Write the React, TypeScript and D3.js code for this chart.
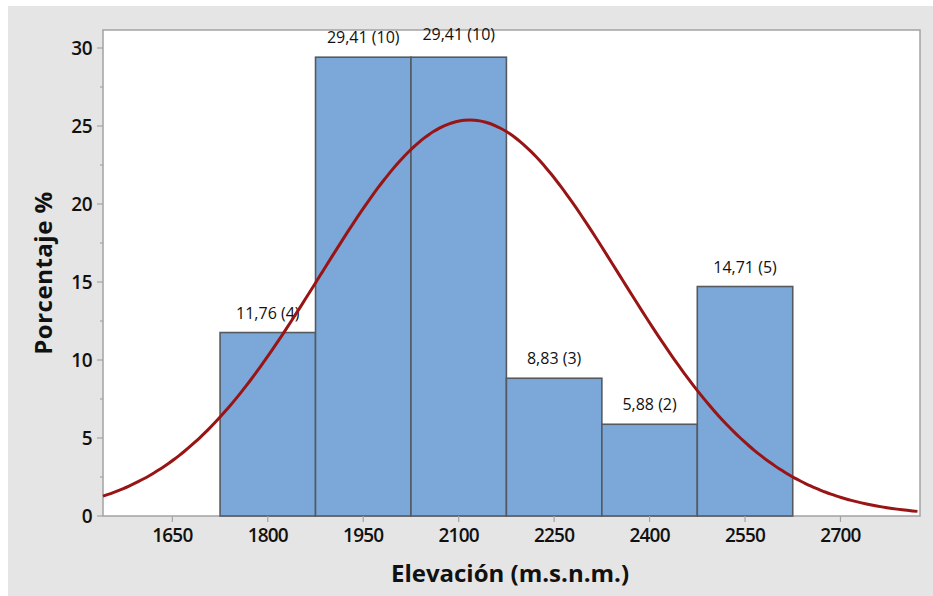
import React, { useEffect, useRef } from "react";
import * as d3 from "d3";

// bins of elevation (m.s.n.m.), width 150
const binStarts = [1725, 1875, 2025, 2175, 2325, 2475];
const binWidth = 150;
const counts = [4, 10, 10, 3, 2, 5];
const percents = [11.76, 29.41, 29.41, 8.83, 5.88, 14.71];
const barLabels = ["11,76 (4)", "29,41 (10)", "29,41 (10)", "8,83 (3)", "5,88 (2)", "14,71 (5)"];

const xTicks = [1650, 1800, 1950, 2100, 2250, 2400, 2550, 2700];
const yTicks = [0, 5, 10, 15, 20, 25, 30];

const W = 933;
const H = 596;
const FONT = "'Open Sans', 'Noto Sans', sans-serif";

export default function App() {
  const svgRef = useRef<SVGSVGElement | null>(null);

  useEffect(() => {
    const svg = d3.select(svgRef.current);
    svg.selectAll("*").remove();

    const left = 103;
    const right = 920;
    const top = 30;
    const bottom = 516;

    const x = d3.scaleLinear().domain([1541, 2825]).range([left, right]);
    const y = d3.scaleLinear().domain([0, 30]).range([bottom, 48]);

    // background
    svg.append("rect").attr("x", 8).attr("y", 6).attr("width", W - 8).attr("height", H - 6).attr("fill", "#e5e5e5");

    // plot area
    svg
      .append("rect")
      .attr("x", left)
      .attr("y", top)
      .attr("width", right - left)
      .attr("height", bottom - top)
      .attr("fill", "#fff")
      .attr("stroke", "#a3a3a3")
      .attr("stroke-width", 1.5);

    /* ---------- bars ---------- */
    const bars = svg.append("g");
    bars
      .selectAll("rect")
      .data(percents)
      .enter()
      .append("rect")
      .attr("x", (d, i) => x(binStarts[i]))
      .attr("y", (d) => y(d))
      .attr("width", (d, i) => x(binStarts[i] + binWidth) - x(binStarts[i]))
      .attr("height", (d) => bottom - y(d))
      .attr("fill", "#7ba7d9")
      .attr("stroke", "#555a60")
      .attr("stroke-width", 1.6);

    bars
      .selectAll("text")
      .data(percents)
      .enter()
      .append("text")
      .attr("x", (d, i) => x(binStarts[i] + binWidth / 2))
      .attr("y", (d, i) => y(d) - (i === 2 ? 17 : 14))
      .attr("text-anchor", "middle")
      .attr("font-family", FONT)
      .attr("font-size", 16)
      .attr("fill", "#111")
      .text((d, i) => barLabels[i]);

    /* ---------- fitted normal curve (from binned data) ---------- */
    const centers = binStarts.map((s) => s + binWidth / 2);
    const n = d3.sum(counts);
    const mean = d3.sum(centers, (c, i) => c * counts[i]) / n;
    const sd = Math.sqrt(d3.sum(centers, (c, i) => counts[i] * (c - mean) ** 2) / (n - 1));
    const fit = (v: number) =>
      (100 * binWidth * Math.exp(-((v - mean) ** 2) / (2 * sd * sd))) / (sd * Math.sqrt(2 * Math.PI));
    const xs = d3.range(1541, 2826, 8);

    svg
      .append("path")
      .datum(xs)
      .attr("fill", "none")
      .attr("stroke", "#991414")
      .attr("stroke-width", 3)
      .attr("d", d3.line<number>().x((v) => x(v)).y((v) => y(fit(v))).curve(d3.curveMonotoneX));

    /* ---------- y axis ---------- */
    const yAxis = svg.append("g");
    const minor = d3.range(2.5, 30, 5);
    yAxis
      .selectAll(".minor")
      .data(minor)
      .enter()
      .append("line")
      .attr("x1", left - 3)
      .attr("x2", left)
      .attr("y1", (d) => y(d))
      .attr("y2", (d) => y(d))
      .attr("stroke", "#a3a3a3")
      .attr("stroke-width", 1.2);
    yAxis
      .selectAll(".major")
      .data(yTicks)
      .enter()
      .append("line")
      .attr("x1", left - 6)
      .attr("x2", left)
      .attr("y1", (d) => y(d))
      .attr("y2", (d) => y(d))
      .attr("stroke", "#a3a3a3")
      .attr("stroke-width", 1.2);
    yAxis
      .selectAll("text")
      .data(yTicks)
      .enter()
      .append("text")
      .attr("x", left - 11)
      .attr("y", (d) => y(d))
      .attr("dy", "0.36em")
      .attr("text-anchor", "end")
      .attr("font-family", FONT)
      .attr("font-size", 19)
      .attr("font-weight", 600)
      .attr("letter-spacing", "-0.5px")
      .attr("fill", "#111")
      .text((d) => d);

    /* ---------- x axis ---------- */
    const xAxis = svg.append("g");
    xAxis
      .selectAll("line")
      .data(xTicks)
      .enter()
      .append("line")
      .attr("x1", (d) => x(d))
      .attr("x2", (d) => x(d))
      .attr("y1", bottom)
      .attr("y2", bottom + 6)
      .attr("stroke", "#a3a3a3")
      .attr("stroke-width", 1.2);
    xAxis
      .selectAll("text")
      .data(xTicks)
      .enter()
      .append("text")
      .attr("x", (d) => x(d))
      .attr("y", bottom + 26)
      .attr("text-anchor", "middle")
      .attr("font-family", FONT)
      .attr("font-size", 19)
      .attr("font-weight", 600)
      .attr("letter-spacing", "-0.8px")
      .attr("fill", "#111")
      .text((d) => d);

    /* ---------- titles ---------- */
    svg
      .append("text")
      .attr("x", 510)
      .attr("y", 582)
      .attr("text-anchor", "middle")
      .attr("font-family", FONT)
      .attr("font-size", 24)
      .attr("font-weight", 700)
      .attr("fill", "#111")
      .text("Elevación (m.s.n.m.)");

    svg
      .append("text")
      .attr("transform", "translate(52,273) rotate(-90)")
      .attr("text-anchor", "middle")
      .attr("font-family", FONT)
      .attr("font-size", 24)
      .attr("font-weight", 700)
      .attr("letter-spacing", "0.5px")
      .attr("fill", "#111")
      .text("Porcentaje %");
  }, []);

  return (
    <div style={{ position: "absolute", left: 0, top: 0, width: W, height: H }}>
      <svg ref={svgRef} width={W} height={H} style={{ display: "block" }} />
    </div>
  );
}
